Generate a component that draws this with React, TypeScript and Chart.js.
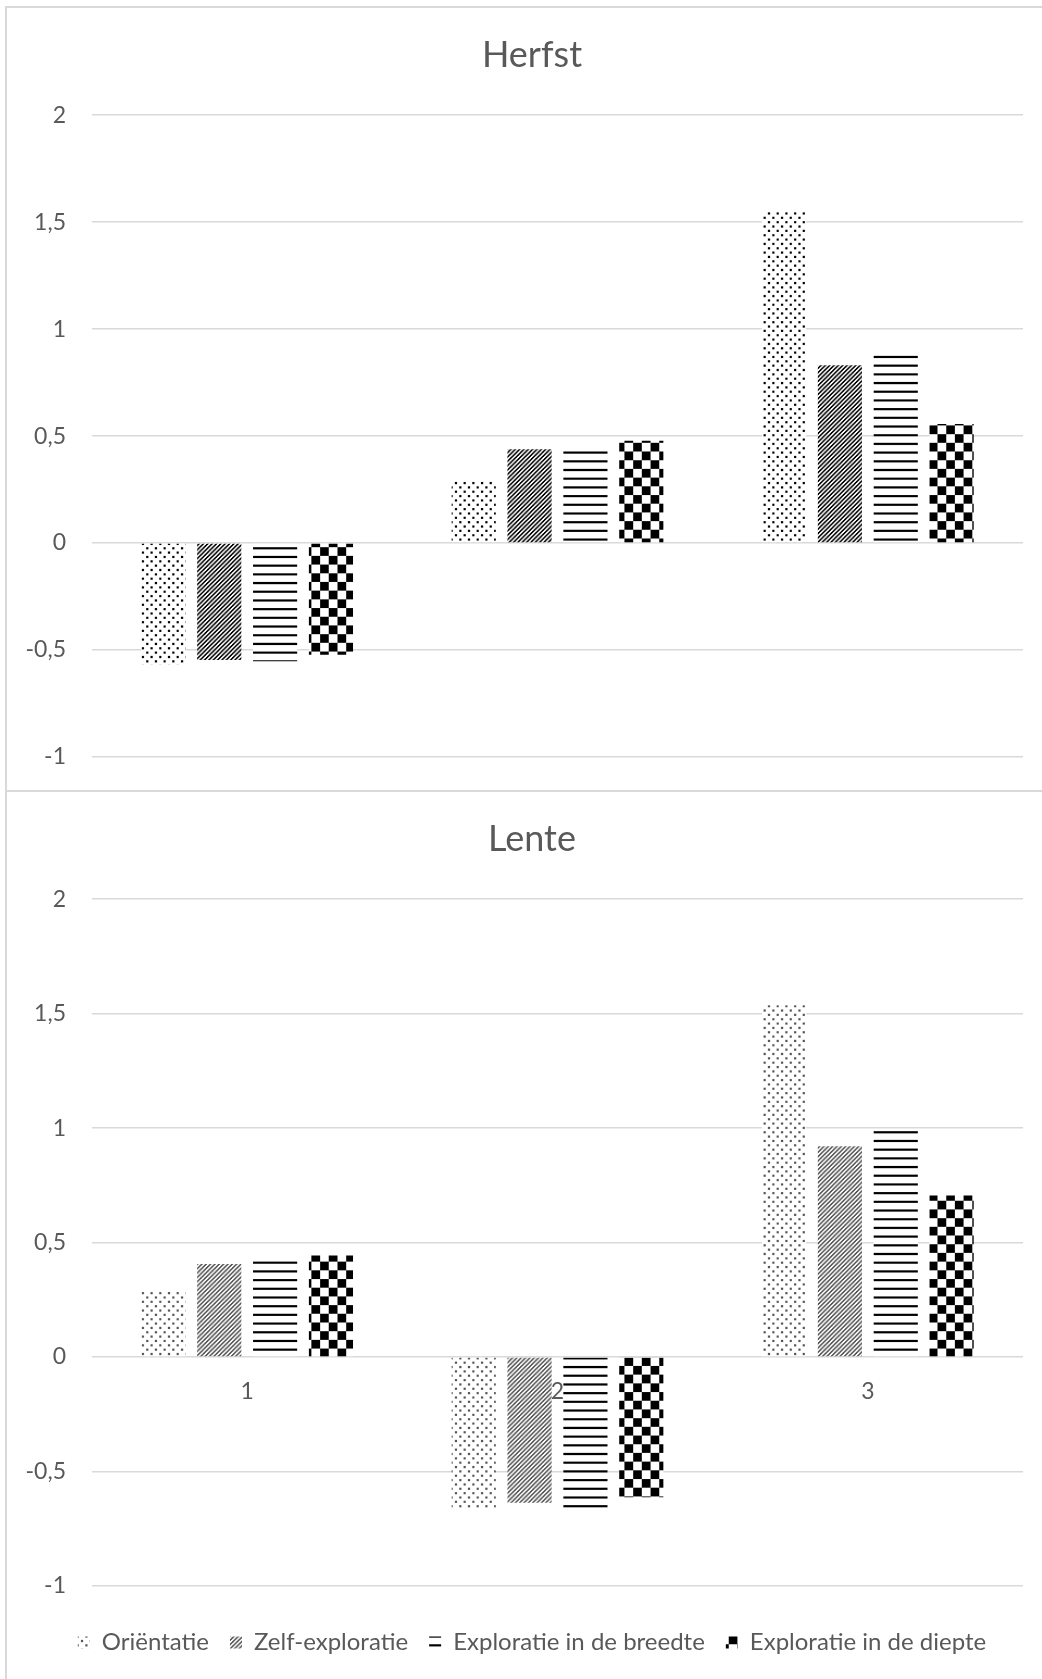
import React, { useEffect, useRef } from 'react';
import { Chart, registerables } from 'chart.js';

Chart.register(...registerables);

const categories = ['1', '2', '3'];
const seriesNames = ['Oriëntatie', 'Zelf-exploratie', 'Exploratie in de breedte', 'Exploratie in de diepte'];
const yTickValues = [-1, -0.5, 0, 0.5, 1, 1.5, 2];
const yTickLabels = ['-1', '-0,5', '0', '0,5', '1', '1,5', '2'];
const herfstTitle = 'Herfst';
const lenteTitle = 'Lente';

const herfstOrientatie = [-0.567, 0.289, 1.552];
const herfstZelf = [-0.547, 0.438, 0.831];
const herfstBreedte = [-0.552, 0.438, 0.886];
const herfstDiepte = [-0.522, 0.478, 0.557];

const lenteOrientatie = [0.285, -0.664, 1.537];
const lenteZelf = [0.407, -0.636, 0.921];
const lenteBreedte = [0.42, -0.664, 0.995];
const lenteDiepte = [0.444, -0.612, 0.706];

const FONT = "Lato, 'Open Sans', sans-serif";
const TEXT = '#595959';
const GRID = '#d9d9d9';
const PSCALE = 1.087;
const CANVAS_W = 1050;

type Kind = 'dots' | 'diag' | 'hlines' | 'checker';

function makePattern(kind: Kind, color: string): CanvasPattern | string {
  const size = kind === 'checker' ? 16 : 8;
  const c = document.createElement('canvas');
  c.width = size;
  c.height = size;
  const ctx = c.getContext('2d');
  if (!ctx) return color;
  ctx.fillStyle = '#ffffff';
  ctx.fillRect(0, 0, size, size);
  ctx.fillStyle = color;
  if (kind === 'dots') {
    ctx.fillRect(0, 0, 2, 2);
    ctx.fillRect(4, 4, 2, 2);
  } else if (kind === 'diag') {
    for (let y = 0; y < size; y++) {
      for (let x = 0; x < size; x++) {
        if ((x + y) % 4 < 2) ctx.fillRect(x, y, 1, 1);
      }
    }
  } else if (kind === 'hlines') {
    ctx.fillRect(0, 0, size, 2);
  } else {
    ctx.fillRect(0, 0, 8, 8);
    ctx.fillRect(8, 8, 8, 8);
  }
  const p = ctx.createPattern(c, 'repeat');
  if (!p) return color;
  try {
    p.setTransform(new DOMMatrix().scale(PSCALE, PSCALE));
  } catch (e) {
    /* ignore */
  }
  return p;
}

function tickLabel(value: number | string) {
  const i = yTickValues.indexOf(Number(value));
  return i >= 0 ? yTickLabels[i] : '';
}

function buildDatasets(values: number[][], colors: string[]) {
  const kinds: Kind[] = ['dots', 'diag', 'hlines', 'checker'];
  return seriesNames.map((name, i) => {
    const pat = makePattern(kinds[i], colors[i]);
    return {
      label: name,
      data: values[i],
      backgroundColor: pat as any,
      hoverBackgroundColor: pat as any,
      borderWidth: 0,
      borderColor: 'transparent',
      xAxisID: 'x',
      yAxisID: 'y',
      categoryPercentage: 0.72,
      barPercentage: 0.79,
    };
  });
}

function yScale() {
  return {
    position: 'left',
    min: -1,
    max: 2,
    afterFit: (s: any) => {
      s.width = 85;
    },
    afterBuildTicks: (s: any) => {
      s.ticks = yTickValues.map((v) => ({ value: v }));
    },
    grid: { color: GRID, lineWidth: 1.5, drawTicks: true, tickLength: 26, tickColor: 'rgba(0,0,0,0)' },
    border: { display: false },
    ticks: {
      padding: 0,
      color: TEXT,
      font: { family: FONT, size: 23 },
      callback: (v: any) => tickLabel(v),
    },
  };
}

function rightPadScale() {
  return {
    type: 'linear',
    position: 'right',
    grid: { display: false, drawTicks: false },
    border: { display: false },
    ticks: { display: false },
    afterFit: (s: any) => {
      s.width = CANVAS_W - 1016;
    },
  };
}

function titleOpts(text: string) {
  return {
    display: true,
    text,
    color: TEXT,
    font: { family: FONT, size: 36, weight: 'normal' as any },
    padding: { top: 26, bottom: 38 },
  };
}

export default function App() {
  const topRef = useRef<HTMLCanvasElement>(null);
  const botRef = useRef<HTMLCanvasElement>(null);

  useEffect(() => {
    if (!topRef.current || !botRef.current) return;

    const top = new Chart(topRef.current, {
      type: 'bar',
      data: {
        labels: categories,
        datasets: buildDatasets(
          [herfstOrientatie, herfstZelf, herfstBreedte, herfstDiepte],
          ['#000000', '#000000', '#000000', '#000000']
        ) as any,
      },
      options: {
        responsive: false,
        animation: false,
        devicePixelRatio: 1,
        layout: { padding: { left: 0, right: 0, top: 0, bottom: 33 } },
        plugins: {
          title: titleOpts(herfstTitle) as any,
          legend: { display: false },
          tooltip: { enabled: false },
        },
        scales: {
          x: { display: false },
          y: yScale() as any,
          yPad: rightPadScale() as any,
        },
      },
    });

    const bot = new Chart(botRef.current, {
      type: 'bar',
      data: {
        labels: categories,
        datasets: buildDatasets(
          [lenteOrientatie, lenteZelf, lenteBreedte, lenteDiepte],
          ['#555555', '#555555', '#000000', '#000000']
        ) as any,
      },
      options: {
        responsive: false,
        animation: false,
        devicePixelRatio: 1,
        layout: { padding: { left: 0, right: 0, top: 0, bottom: 14.5 } },
        plugins: {
          title: titleOpts(lenteTitle) as any,
          legend: {
            display: true,
            position: 'bottom',
            labels: {
              boxWidth: 12,
              boxHeight: 12,
              padding: 21,
              color: TEXT,
              font: { family: FONT, size: 24 },
            },
          },
          tooltip: { enabled: false },
        },
        scales: {
          x: {
            position: { y: 0 } as any,
            z: 1,
            grid: { display: false, drawTicks: false },
            border: { display: false },
            ticks: { padding: 21, color: TEXT, font: { family: FONT, size: 23 } },
          },
          xPad: {
            type: 'category',
            position: 'bottom',
            grid: { display: false, drawTicks: false },
            border: { display: false },
            ticks: { display: false },
            afterFit: (s: any) => {
              s.height = 23.5;
            },
          } as any,
          y: yScale() as any,
          yPad: rightPadScale() as any,
        },
      },
    });

    return () => {
      top.destroy();
      bot.destroy();
    };
  }, []);

  const boxStyle = (t: number, h: number): React.CSSProperties => ({
    position: 'absolute',
    left: 5,
    top: t,
    width: 1037,
    height: h,
    boxSizing: 'border-box',
    borderTop: `2px solid ${GRID}`,
    borderLeft: `2px solid ${GRID}`,
    background: '#ffffff',
    overflow: 'hidden',
  });

  return (
    <div style={{ position: 'absolute', left: 0, top: 0, width: 1042, height: 1679, background: '#ffffff', overflow: 'hidden' }}>
      <div style={boxStyle(6, 786)}>
        <canvas ref={topRef} width={CANVAS_W} height={782} style={{ position: 'absolute', left: 0, top: 0, display: 'block' }} />
      </div>
      <div style={boxStyle(790, 889)}>
        <canvas ref={botRef} width={CANVAS_W} height={887} style={{ position: 'absolute', left: 0, top: 0, display: 'block' }} />
      </div>
    </div>
  );
}
